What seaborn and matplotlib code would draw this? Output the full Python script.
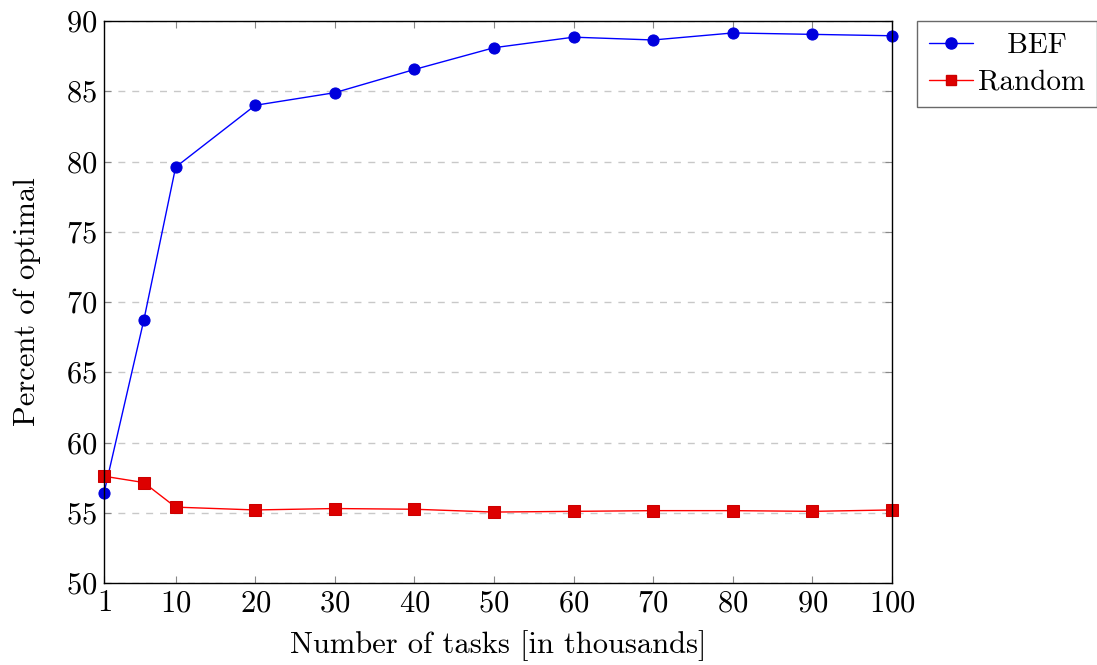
import matplotlib
matplotlib.use("Agg")
import matplotlib.pyplot as plt
import seaborn as sns
import pandas as pd
from matplotlib.lines import Line2D

tasks = [1, 6, 10, 20, 30, 40, 50, 60, 70, 80, 90, 100]
bef = [56.4, 68.7, 79.6, 84.0, 84.9, 86.55, 88.1, 88.85, 88.65, 89.15, 89.05, 88.95]
rnd = [57.6, 57.15, 55.4, 55.2, 55.3, 55.25, 55.05, 55.1, 55.15, 55.15, 55.1, 55.2]
xticks = [1, 10, 20, 30, 40, 50, 60, 70, 80, 90, 100]
yticks = [50, 55, 60, 65, 70, 75, 80, 85, 90]

sns.set_theme(style="white")
plt.rcParams['font.family'] = ['cmr10', 'DejaVu Serif']
plt.rcParams['axes.formatter.use_mathtext'] = True
plt.rcParams['text.color'] = 'black'
plt.rcParams['axes.labelcolor'] = 'black'

df = pd.DataFrame({"tasks": tasks + tasks,
                   "val": bef + rnd,
                   "series": ["BEF"] * len(tasks) + ["Random"] * len(tasks)})

fig = plt.figure(figsize=(10.97, 6.65), dpi=100)
ax = fig.add_axes([0.0948, 0.1233, 0.7183, 0.8451])

sns.lineplot(data=df, x="tasks", y="val", hue="series", style="series",
             palette={"BEF": "#0000ff", "Random": "#ff0000"},
             markers={"BEF": "o", "Random": "s"}, dashes=False,
             linewidth=1.0, markersize=8, ax=ax, legend=False)
for line, fc, ec in zip(ax.get_lines(), ["#0000dd", "#dd0000"], ["#0000dd", "#cc0000"]):
    line.set_markerfacecolor(fc)
    line.set_markeredgecolor(ec)
    line.set_clip_on(False)

ax.set_xlim(1, 100)
ax.set_ylim(50, 90)
ax.set_xticks(xticks)
ax.set_yticks(yticks)
ax.yaxis.grid(True, linestyle=(0, (5, 5)), color="#c8c8c8", linewidth=1.0)
ax.set_axisbelow(True)
ax.tick_params(direction="in", length=5, width=0.8, color="#888888",
               top=True, right=True, bottom=True, left=True, labelsize=22,
               labelcolor="black", pad=5)
for s in ax.spines.values():
    s.set_color("black")
    s.set_linewidth(1.0)
ax.set_xlabel("Number of tasks [in thousands]", fontsize=22, labelpad=9, color="black")
ax.set_ylabel("Percent of optimal", fontsize=22, labelpad=18, color="black")

handles = [Line2D([], [], color="#0000ff", marker="o", markersize=8,
                  markerfacecolor="#0000dd", markeredgecolor="#0000dd", linewidth=1.0),
           Line2D([], [], color="#ff0000", marker="s", markersize=7,
                  markerfacecolor="#dd0000", markeredgecolor="#cc0000", linewidth=1.0)]
leg = ax.legend(handles, ["   BEF", "Random"], loc="upper left",
                bbox_to_anchor=(1.032, 1.0), fontsize=21, frameon=True,
                fancybox=False, edgecolor="#444444", borderpad=0.4,
                handlelength=1.5, handletextpad=0.2, labelspacing=0.35,
                borderaxespad=0.0, markerfirst=True)
leg.get_frame().set_linewidth(1.0)

fig.savefig("out.png", dpi=100)
